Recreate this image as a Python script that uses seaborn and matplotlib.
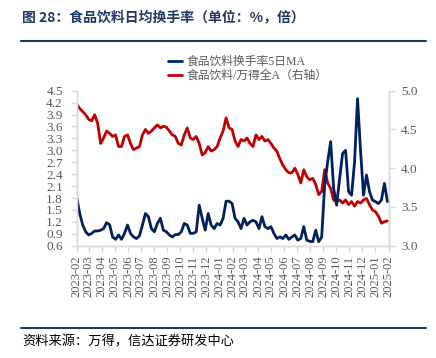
import matplotlib
matplotlib.use("Agg")
import matplotlib.dates as mdates
import matplotlib.pyplot as plt
import pandas as pd
import seaborn as sns
from matplotlib.lines import Line2D

# weekly samples, 2023-02 .. 2025-01
start_date = "2023-02-01"
turnover_5d_ma = [
    1.81, 1.41, 1.12, 0.95, 0.87, 0.91, 0.97, 0.97, 0.99, 1.03,
    1.18, 1.13, 0.82, 0.76, 0.87, 0.76, 0.91, 1.12, 0.91, 0.82,
    0.78, 0.85, 1.12, 1.41, 1.33, 1.03, 0.95, 1.16, 1.29, 0.99,
    0.95, 0.87, 0.82, 0.88, 0.88, 0.95, 1.16, 1.12, 0.91, 0.91,
    0.95, 1.62, 1.29, 0.99, 1.41, 1.12, 1.03, 1.16, 1.12, 1.29,
    1.72, 1.72, 1.66, 1.29, 1.20, 1.03, 1.29, 1.12, 1.20, 1.24,
    1.20, 1.03, 1.33, 1.08, 1.03, 1.08, 0.91, 0.78, 0.82, 0.78,
    0.87, 0.76, 0.82, 0.87, 0.74, 0.78, 1.08, 0.74, 0.71, 0.70,
    0.99, 0.70, 0.82, 2.13, 2.71, 3.22, 2.04, 1.62, 2.29, 2.92,
    3.00, 1.96, 1.87, 2.71, 4.30, 3.00, 1.87, 2.38, 1.96, 1.75,
    1.71, 1.66, 1.75, 2.17, 1.71,
]
ratio_vs_wind_a = [
    4.83, 4.77, 4.73, 4.69, 4.63, 4.61, 4.69, 4.58, 4.32, 4.39,
    4.48, 4.45, 4.41, 4.43, 4.28, 4.28, 4.41, 4.43, 4.32, 4.24,
    4.26, 4.28, 4.43, 4.50, 4.45, 4.48, 4.52, 4.56, 4.52, 4.54,
    4.53, 4.48, 4.43, 4.41, 4.32, 4.30, 4.43, 4.52, 4.39, 4.37,
    4.41, 4.32, 4.17, 4.20, 4.28, 4.22, 4.24, 4.28, 4.39, 4.48,
    4.65, 4.52, 4.50, 4.35, 4.28, 4.37, 4.35, 4.39, 4.32, 4.28,
    4.43, 4.37, 4.41, 4.35, 4.37, 4.32, 4.26, 4.22, 4.12, 4.04,
    3.98, 3.94, 3.94, 4.00, 3.92, 3.81, 3.98, 3.89, 3.85, 3.87,
    3.79, 3.66, 3.70, 3.98, 3.81, 3.74, 3.59, 3.57, 3.59, 3.55,
    3.59, 3.53, 3.57, 3.51, 3.57, 3.55, 3.59, 3.61, 3.53, 3.46,
    3.44, 3.38, 3.29, 3.31, 3.32,
]
left_ticks = [0.6, 0.9, 1.2, 1.5, 1.8, 2.1, 2.4, 2.7, 3.0, 3.3, 3.6, 3.9, 4.2, 4.5]
right_ticks = [3.0, 3.5, 4.0, 4.5, 5.0]
label_turnover = "食品饮料换手率5日MA"
label_ratio = "食品饮料/万得全A（右轴）"
title = "图 28：食品饮料日均换手率（单位：%，倍）"
source = "资料来源：万得，信达证券研发中心"

NAVY = "#002060"
RED = "#C00000"
GREY = "#595959"
SPINE = "#d9d9d9"
SERIF = ["Liberation Serif", "Noto Sans CJK SC"]

sns.set_theme(style="white")
plt.rcParams["font.family"] = ["Noto Sans CJK SC", "DejaVu Sans"]

df = pd.DataFrame({
    "date": pd.date_range(start_date, periods=len(turnover_5d_ma), freq="7D"),
    "turnover": turnover_5d_ma,
    "ratio": ratio_vs_wind_a,
})

fig = plt.figure(figsize=(4.36, 3.58), dpi=100)
ax = fig.add_axes([0.176, 0.3137, 0.7155, 0.4329])
ax2 = ax.twinx()

sns.lineplot(data=df, x="date", y="ratio", ax=ax2, color=RED, lw=2.0, label=label_ratio, legend=False)
sns.lineplot(data=df, x="date", y="turnover", ax=ax, color=NAVY, lw=2.0, label=label_turnover, legend=False)
ax.set_zorder(ax2.get_zorder() + 1)
ax.patch.set_visible(False)

ax.set_xlim(pd.Timestamp("2023-02-01"), pd.Timestamp("2025-02-01"))
ax.set_ylim(0.6, 4.5)
ax2.set_ylim(3.0, 5.0)
ax.set_yticks(left_ticks)
ax2.set_yticks(right_ticks)
ax.set_xlabel("")
ax.set_ylabel("")
ax2.set_ylabel("")

ax.xaxis.set_major_locator(mdates.MonthLocator())
ax.xaxis.set_major_formatter(mdates.DateFormatter("%Y-%m"))

for a in (ax, ax2):
    for side in ("left", "right", "bottom"):
        a.spines[side].set_color(SPINE)
        a.spines[side].set_linewidth(1.0)
    a.spines["top"].set_visible(False)
    a.tick_params(colors=SPINE, labelcolor=GREY, direction="out", length=4, width=1.0)
    for lbl in a.get_xticklabels() + a.get_yticklabels():
        lbl.set_family(SERIF)
        lbl.set_fontsize(9.5)

ax.tick_params(axis="y", left=True, pad=6)
ax2.tick_params(axis="y", right=True, pad=5)
ax.tick_params(axis="x", bottom=True, pad=3)
for lbl in ax.get_xticklabels():
    lbl.set_rotation(90)
    lbl.set_fontsize(9)

handles = [Line2D([], [], color=NAVY, lw=2.0), Line2D([], [], color=RED, lw=2.0)]
fig.legend(handles, [label_turnover, label_ratio], loc="upper left",
           bbox_to_anchor=(168 / 436, 1 - 56 / 358), frameon=False,
           prop={"family": SERIF, "size": 8.5}, labelcolor=GREY,
           handlelength=1.2, handletextpad=0.4, labelspacing=0.15,
           borderaxespad=0, borderpad=0)

fig.text(22 / 436, 1 - 17 / 358, title, fontsize=10, fontweight="bold",
         color="#1F3864", va="center", ha="left")
fig.add_artist(Line2D([21 / 436, 426 / 436], [1 - 41 / 358] * 2,
                      transform=fig.transFigure, color="#1F3864", lw=1.5))
fig.add_artist(Line2D([21 / 436, 426 / 436], [1 - 328 / 358] * 2,
                      transform=fig.transFigure, color="#1F3864", lw=1.5))
fig.text(22 / 436, 1 - 342 / 358, source, fontsize=9.5, color="#000000",
         va="center", ha="left")

fig.savefig("out.png", dpi=100)
